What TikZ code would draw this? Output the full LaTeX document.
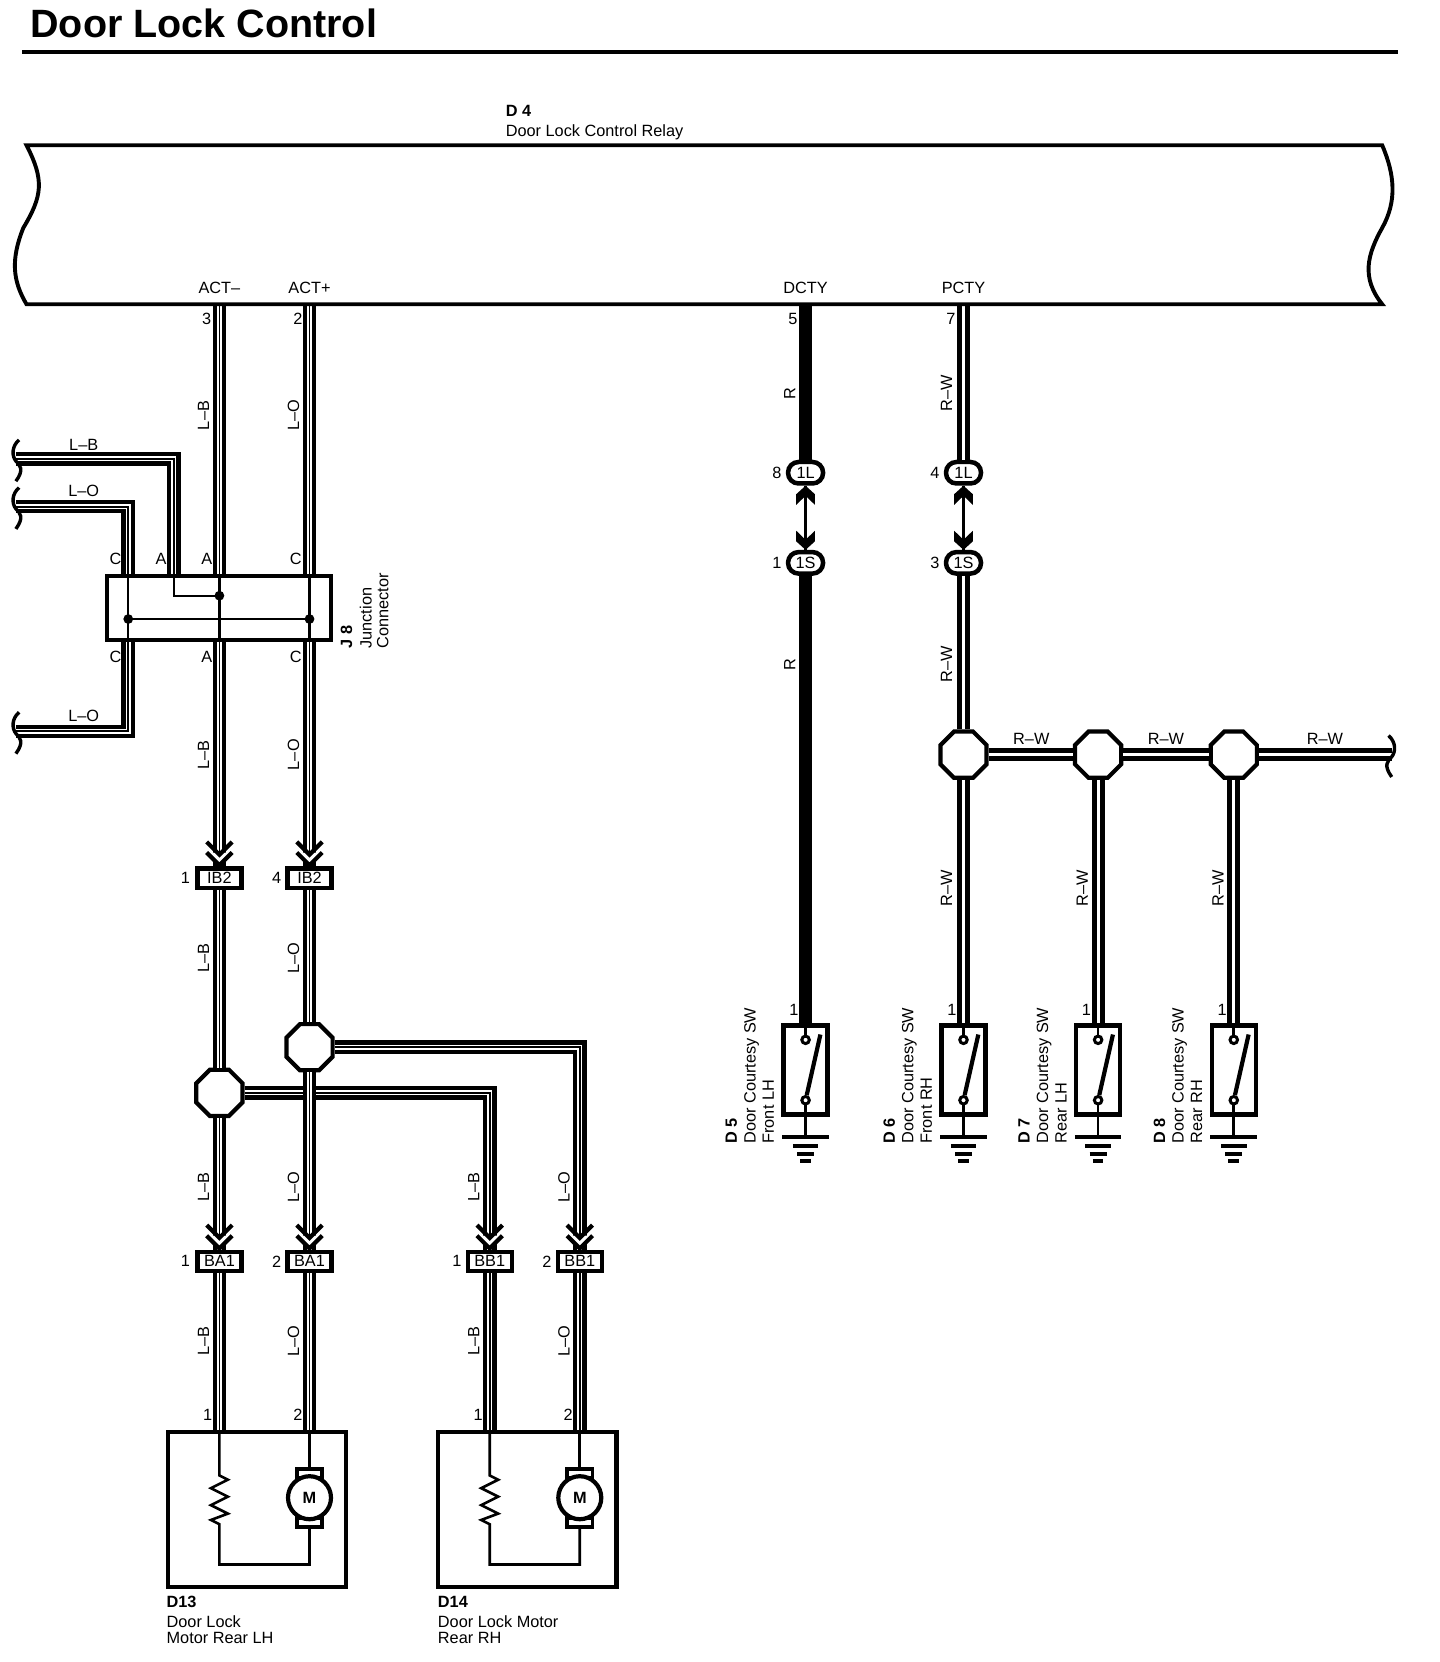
\documentclass[tikz,border=0pt]{standalone}
\usepackage{fontspec}
\setmainfont{Liberation Sans}
\usetikzlibrary{calc,shapes.geometric}
\tikzset{
	rwire/.style={line width=13pt},
	rwwire/.style={line width=3pt,white,preaction={draw=black,line width=13pt}},
	lwire/.style={line width=1.8pt,preaction={draw=black,line width=13.6pt},preaction={draw=white,line width=5pt}},
	inner/.style={line width=2.2pt},
	thick line/.style={line width=3.9pt},
	conn/.style={draw,fill=white,line width=4.2pt,minimum width=44pt,minimum height=19.5pt},
	oval/.style={draw,fill=white,line width=4.5pt,rounded corners=10.5pt,minimum width=35pt,minimum height=21.5pt},
	junct/.style={draw,fill=white,line width=4.2pt,regular polygon,regular polygon sides=8,minimum size=50pt},
	swbox/.style={draw,line width=4.2pt,minimum width=44pt,minimum height=89pt},
	term/.style={draw,circle,fill=white,line width=3pt,minimum size=7.5pt},
	mbox/.style={draw,line width=4.2pt,minimum width=178.5pt,minimum height=155.5pt},
	blab/.style={rotate=90,anchor=west},
	wlab/.style={rotate=90}
}
\def\dblchev(#1){
	\draw[line width=4.2pt,fill=white] ($(#1.north)+(-12,-13)$) -- ++(12,12) -- ++(12,-12);
	\draw[line width=4.2pt] ($(#1.north)+(-12,-23)$) -- ++(12,12) -- ++(12,-12);
}
\def\plughead(#1,#2){\fill (#1) -- ++(8.8,#2*8) -- ++(0,#2*10) -- ++(-8.8,#2*-8.5) -- ++(-8.8,#2*8.5) -- ++(0,#2*-10) -- cycle;}
\def\wavyend(#1,#2){\draw[line width=3.4pt] ($(#1)+(#2*3,-18)$) .. controls ($(#1)+(#2*-4,-12)$) and ($(#1)+(#2*-4,-3)$) .. ($(#1)+(0,2)$) .. controls ($(#1)+(#2*4,6)$) and ($(#1)+(#2*8,10)$) .. ($(#1)+(0,21)$);}
\def\doorsw(#1,#2)#3#4#5{
	\node[swbox] (#2) at (#1,1009.5) {};
	\node[term] (#2u) at (#1,981) {};
	\node[term] (#2d) at (#1,1038) {};
	\coordinate (#2g) at (#1,1073);
	\coordinate (#2b) at (#1+14,976);
	\draw[inner,line width=2.6pt] (#2.north) -- (#2u);
	\draw[line width=4.2pt] (#2d) -- (#2b);
	\draw[inner,line width=2.6pt] (#2d) -- (#2g);
	\draw[thick line] (#1-22,1073) -- (#1+22,1073);
	\draw[thick line] (#1-12,1081) -- (#1+12,1081);
	\draw[thick line] (#1-8,1089) -- (#1+8,1089);
	\draw[thick line] (#1-5,1095) -- (#1+5,1095);
	\node[blab] (#2t1) at (#1-70,1079) {\textbf{#3}};
	\node[blab] (#2t2) at (#1-51,1079) {#4};
	\node[blab] (#2t3) at (#1-35,1079) {#5};
}
\def\lockmotor(#1,#2){
	\node[mbox] (#2) at (#1+35.5,1424) {};
	\coordinate (#2c) at (#1,1476);
	\coordinate (#2e) at (#1+85,1476);
	\draw[thick line,fill=white] (#1+73,1394) rectangle (#1+97,1386);
	\draw[thick line,fill=white] (#1+73,1432) rectangle (#1+97,1441);
	\node[draw,circle,fill=white,line width=4.2pt,minimum size=43pt] (#2m) at (#1+85,1413) {\textbf{M}};
	\draw[inner,line width=2.6pt] (#2.north -| #2c) -- (#1,1392) -- (#1+8,1396) -- (#1-8,1404) -- (#1+8,1412) -- (#1-8,1420) -- (#1+8,1428) -- (#1-8,1434) -- (#1,1438) -- (#2c) -- (#2e) -- (#1+85,1441);
	\draw[inner,line width=2.6pt] (#2.north -| #2e) -- (#1+85,1386);
}

\begin{document}
\begin{tikzpicture}[x=1.06pt,y=-1.06pt,every node/.style={inner sep=0pt,font=\fontsize{16.3}{16.3}\selectfont}]
	\useasboundingbox (0,0) rectangle (1358.5,1568);

	\node[anchor=base west,font=\fontsize{39.5}{40}\selectfont\bfseries] (title) at (28.5,35) {Door Lock Control};
	\draw[thick line] (21,49) -- (1319,49);

	\node[anchor=base west,font=\fontsize{16.3}{16}\selectfont\bfseries] (d4) at (477,110) {D 4};
	\node[anchor=base west] (d4t) at (477,129) {Door Lock Control Relay};

	% relay pins
	\coordinate (actm) at (207,287);
	\coordinate (actp) at (292,287);
	\coordinate (dcty) at (760,287);
	\coordinate (pcty) at (909,287);

	% junction connector
	\node[draw,fill=white,line width=4.2pt,minimum width=224pt,minimum height=63.5pt] (j8) at (206.5,573.5) {};
	\coordinate (ja) at (164,562);
	\coordinate (jc) at (121,584);
	\coordinate (jd) at (292,584);
	\coordinate (je) at (207,562);
	\draw[inner] (j8.north -| actm) -- (j8.south -| actm);
	\draw[inner] (j8.north -| actp) -- (j8.south -| actp);
	\draw[inner] (j8.north -| jc) -- (j8.south -| jc);
	\draw[inner] (j8.north -| ja) -- (ja) -- (je);
	\draw[inner] (jc) -- (jd);
	\fill (jc) circle (4.6);
	\fill (jd) circle (4.6);
	\fill (je) circle (4.6);

	% connectors
	\node[conn] (ib1) at (207,828.5) {IB2};
	\node[conn] (ib4) at (292,828.5) {IB2};
	\node[conn] (ba1) at (207,1190) {BA1};
	\node[conn] (ba2) at (292,1190) {BA1};
	\node[conn] (bb1) at (462,1190) {BB1};
	\node[conn] (bb2) at (547,1190) {BB1};
	\node[oval] (la) at (760,446) {1L};
	\node[oval] (lb) at (909,446) {1L};
	\node[oval] (sa) at (760,531) {1S};
	\node[oval] (sb) at (909,531) {1S};

	% junctions
	\node[junct] (jp) at (292,988) {};
	\node[junct] (jm) at (207,1031) {};
	\node[junct] (jr1) at (909,712) {};
	\node[junct] (jr2) at (1036,712) {};
	\node[junct] (jr3) at (1164,712) {};

	% loads
	\lockmotor(207,dl)
	\lockmotor(462,dr)
	\doorsw(760,sw5){D 5}{Door Courtesy SW}{Front LH}
	\doorsw(909,sw6){D 6}{Door Courtesy SW}{Front RH}
	\doorsw(1036,sw7){D 7}{Door Courtesy SW}{Rear LH}
	\doorsw(1164,sw8){D 8}{Door Courtesy SW}{Rear RH}

	% left hand wires
	\coordinate (eb) at (15,433);
	\coordinate (eo) at (15,478);
	\coordinate (ec) at (15,690);
	\draw[lwire] (eb) -| (j8.north -| ja);
	\draw[lwire] (eo) -| (j8.north -| jc);
	\draw[lwire] (ec) -| (j8.south -| jc);
	\wavyend(eb,1)
	\wavyend(eo,1)
	\wavyend(ec,1)

	\draw[lwire] (actm) -- (j8.north -| actm);
	\draw[lwire] (actp) -- (j8.north -| actp);
	\draw[lwire] (j8.south -| actm) -- (ib1);
	\draw[lwire] (j8.south -| actp) -- (ib4);
	\draw[lwire] (ib1) -- (jm);
	\draw[lwire] (ib4) -- (jp);
	\draw[lwire] (jm) -| (bb1);
	\draw[lwire] (jp) -| (bb2);
	\draw[lwire] (jm) -- (ba1);
	\draw[lwire] (jp) -- (ba2);
	\draw[lwire] (ba1) -- (ba1 |- dl.north);
	\draw[lwire] (ba2) -- (ba2 |- dl.north);
	\draw[lwire] (bb1) -- (bb1 |- dr.north);
	\draw[lwire] (bb2) -- (bb2 |- dr.north);
	\dblchev(ib1)
	\dblchev(ib4)
	\dblchev(ba1)
	\dblchev(ba2)
	\dblchev(bb1)
	\dblchev(bb2)

	% right hand wires
	\draw[rwire] (dcty) -- (la);
	\draw[rwire] (sa) -- (sw5.north);
	\draw[rwwire] (pcty) -- (lb);
	\draw[rwwire] (sb) -- (jr1);
	\draw[rwwire] (jr1) -- (sw6.north);
	\draw[rwwire] (jr2) -- (sw7.north);
	\draw[rwwire] (jr3) -- (sw8.north);
	\coordinate (er) at (1313,712);
	\draw[rwwire] (jr1) -- (jr2);
	\draw[rwwire] (jr2) -- (jr3);
	\draw[rwwire] (jr3) -- (er);
	\wavyend(er,-1)

	\draw[inner] (la) -- (sa);
	\draw[inner] (lb) -- (sb);
	\plughead(la.south,1)
	\plughead(lb.south,1)
	\plughead(sa.north,-1)
	\plughead(sb.north,-1)

	% relay body
	\draw[thick line] (25,137) -- (1304,137) .. controls (1316,165) and (1318,190) .. (1304,215) .. controls (1290,240) and (1284,262) .. (1304,287) -- (25,287) .. controls (12,265) and (10,245) .. (22,215) .. controls (40,185) and (42,170) .. (25,137) -- cycle;

	\node (nactm) at (207,271.5) {ACT–};
	\node (nactp) at (292,271.5) {ACT+};
	\node (ndcty) at (760,271.5) {DCTY};
	\node (npcty) at (909,271.5) {PCTY};

	% pin numbers
	\node (p1) at (195,301) {3};
	\node (p2) at (281,301) {2};
	\node (p3) at (748,301) {5};
	\node (p4) at (897,301) {7};
	\node (p5) at (733,446) {8};
	\node (p6) at (882,446) {4};
	\node (p7) at (733,531) {1};
	\node (p8) at (882,531) {3};
	\node (p9) at (175,828) {1};
	\node (p10) at (261,828) {4};
	\node (p11) at (175,1190) {1};
	\node (p12) at (261,1190) {2};
	\node (p13) at (431,1190) {1};
	\node (p14) at (516,1190) {2};
	\node (p15) at (196,1335) {1};
	\node (p16) at (281,1335) {2};
	\node (p17) at (451,1335) {1};
	\node (p18) at (536,1335) {2};
	\node (p19) at (749,953) {1};
	\node (p20) at (898,953) {1};
	\node (p21) at (1025,953) {1};
	\node (p22) at (1153,953) {1};

	% junction connector letters
	\node (c1) at (109,527) {C};
	\node (c2) at (152,527) {A};
	\node (c3) at (195,527) {A};
	\node (c4) at (279,527) {C};
	\node (c5) at (109,620) {C};
	\node (c6) at (195,620) {A};
	\node (c7) at (279,620) {C};
	\node[blab,font=\fontsize{16.3}{16}\selectfont\bfseries] (j8n) at (327,612) {J 8};
	\node[blab] (j8t) at (345,612) {Junction};
	\node[blab] (j8u) at (361,612) {Connector};

	% wire colours
	\node (w1) at (79,420) {L–B};
	\node (w2) at (79,463) {L–O};
	\node (w3) at (79,675) {L–O};
	\node[wlab] (w4) at (192,392) {L–B};
	\node[wlab] (w5) at (277,392) {L–O};
	\node[wlab] (w6) at (192,712) {L–B};
	\node[wlab] (w7) at (277,712) {L–O};
	\node[wlab] (w8) at (192,904) {L–B};
	\node[wlab] (w9) at (277,904) {L–O};
	\node[wlab] (w10) at (192,1120) {L–B};
	\node[wlab] (w11) at (277,1120) {L–O};
	\node[wlab] (w12) at (447,1120) {L–B};
	\node[wlab] (w13) at (532,1120) {L–O};
	\node[wlab] (w14) at (192,1265) {L–B};
	\node[wlab] (w15) at (277,1265) {L–O};
	\node[wlab] (w16) at (447,1265) {L–B};
	\node[wlab] (w17) at (532,1265) {L–O};
	\node[wlab] (w18) at (745,371) {R};
	\node[wlab] (w19) at (745,627) {R};
	\node[wlab] (w20) at (893,371) {R–W};
	\node[wlab] (w21) at (893,627) {R–W};
	\node[wlab] (w22) at (893,838) {R–W};
	\node[wlab] (w23) at (1021,838) {R–W};
	\node[wlab] (w24) at (1149,838) {R–W};
	\node (w25) at (973,697) {R–W};
	\node (w26) at (1100,697) {R–W};
	\node (w27) at (1250,697) {R–W};

	% motor names
	\node[anchor=base west,font=\fontsize{16.3}{16}\selectfont\bfseries] (d13) at (157,1517) {D13};
	\node[anchor=base west] (d13a) at (157,1535) {Door Lock};
	\node[anchor=base west] (d13b) at (157,1550.5) {Motor Rear LH};
	\node[anchor=base west,font=\fontsize{16.3}{16}\selectfont\bfseries] (d14) at (413,1517) {D14};
	\node[anchor=base west] (d14a) at (413,1535) {Door Lock Motor};
	\node[anchor=base west] (d14b) at (413,1550.5) {Rear RH};
\end{tikzpicture}
\end{document}
